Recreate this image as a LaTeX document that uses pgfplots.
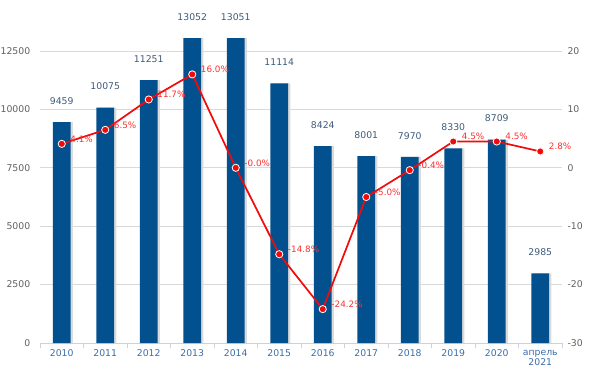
\documentclass[border=0pt]{standalone}
\usepackage{pgfplots}
\pgfplotsset{compat=1.18}
\usepackage{fontspec}
\setmainfont{DejaVu Sans}
\definecolor{barblue}{HTML}{03508F}
\definecolor{tickgray}{HTML}{606060}
\definecolor{xlab}{HTML}{3C6EA8}
\definecolor{vlab}{HTML}{3D5B7B}
\definecolor{gridc}{HTML}{D9D9D9}
\definecolor{axc}{HTML}{C5D3E2}
\definecolor{linered}{HTML}{F00A0A}
\definecolor{pctred}{HTML}{FF3030}
\begin{document}
\begin{tikzpicture}
\useasboundingbox (-40pt,-24pt) rectangle (551pt,343pt);
\begin{axis}[
  scale only axis, width=522pt, height=338.72pt,
  xmin=-0.5, xmax=11.5, ymin=0, ymax=14500,
  clip=false,
  scaled y ticks=false,
  axis y line*=left, axis x line*=bottom,
  y axis line style={draw=none},
  x axis line style={draw=axc, line width=1pt},
  xtick={0,...,11},
  xticklabels={2010,2011,2012,2013,2014,2015,2016,2017,2018,2019,2020,{апрель\\2021}},
  xticklabel style={font=\fontsize{9.3}{10}\selectfont, text=xlab, align=center, yshift=1pt},
  major x tick style={draw=none},
  minor xtick={-0.5,0.5,...,11.5},
  minor x tick style={draw=axc, line width=0.8pt},
  minor tick length=5pt,
  tick align=outside,
  ytick={0,2500,5000,7500,10000,12500},
  ymajorgrids, major grid style={gridc, line width=0.9pt},
  major y tick style={draw=none},
  yticklabel style={font=\fontsize{9.3}{10}\selectfont, text=tickgray, xshift=-2pt},
  /pgf/number format/1000 sep={},
  /pgf/number format/assume math mode=true,
]
\addplot[ybar, bar width=17.8pt, bar shift=0pt, fill=black!14, draw=none, xshift=2.2pt, forget plot]
  coordinates {(0,9459) (1,10075) (2,11251) (3,13052) (4,13051) (5,11114) (6,8424) (7,8001) (8,7970) (9,8330) (10,8709) (11,2985)};
\addplot[ybar, bar width=17.8pt, bar shift=0pt, fill=barblue, draw=none,
  nodes near coords,
  every node near coord/.append style={font=\fontsize{9.3}{10}\selectfont, text=vlab, yshift=14pt,
    /pgf/number format/1000 sep={}, /pgf/number format/assume math mode=true}]
  coordinates {(0,9459) (1,10075) (2,11251) (3,13052) (4,13051) (5,11114) (6,8424) (7,8001) (8,7970) (9,8330) (10,8709) (11,2985)};
\end{axis}
\begin{axis}[
  scale only axis, width=522pt, height=338.72pt,
  xmin=-0.5, xmax=11.5, ymin=-30, ymax=28,
  clip=false,
  axis y line*=right, axis x line=none,
  y axis line style={draw=none},
  ytick={-30,-20,-10,0,10,20},
  major y tick style={draw=none},
  yticklabel style={font=\fontsize{9.3}{10}\selectfont, text=tickgray, xshift=2pt},
  /pgf/number format/assume math mode=true,
]
\addplot[color=linered, line width=1.7pt, mark=*, mark size=3.6pt,
  mark options={fill=linered, draw=white, line width=0.8pt},
  point meta=explicit symbolic,
  nodes near coords,
  every node near coord/.append style={font=\fontsize{8.8}{10}\selectfont, text=pctred, anchor=west, xshift=5pt, yshift=5pt}]
  coordinates {(0,4.1) [4.1\%] (1,6.5) [6.5\%] (2,11.7) [11.7\%] (3,16.0) [16.0\%] (4,-0.0) [-0.0\%] (5,-14.8) [-14.8\%] (6,-24.2) [-24.2\%] (7,-5.0) [-5.0\%] (8,-0.4) [-0.4\%] (9,4.5) [4.5\%] (10,4.5) [4.5\%] (11,2.8) [2.8\%]};
\end{axis}
\end{tikzpicture}
\end{document}
